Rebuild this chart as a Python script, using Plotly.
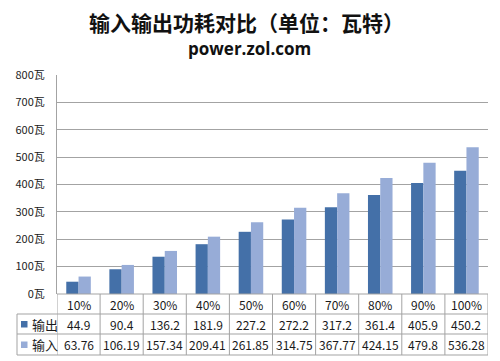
import plotly.graph_objects as go

categories = ["10%", "20%", "30%", "40%", "50%", "60%", "70%", "80%", "90%", "100%"]
output_w = [44.9, 90.4, 136.2, 181.9, 227.2, 272.2, 317.2, 361.4, 405.9, 450.2]
input_w = [63.76, 106.19, 157.34, 209.41, 261.85, 314.75, 367.77, 424.15, 479.8, 536.28]
series_names = ["输出", "输入"]
y_ticks = [0, 100, 200, 300, 400, 500, 600, 700, 800]

W, H = 500, 361
L, R, T, B = 57, 488, 75, 294
PW, PH = R - L, B - T
C_OUT = "#4470a8"
C_IN = "#97acd7"
GRID = "#a3a3a3"
FONT = "Noto Sans CJK SC"


def px(X):
    return (X - L) / PW


def py(Y):
    return (B - Y) / PH


fig = go.Figure()
fig.add_trace(go.Bar(x=categories, y=output_w, name=series_names[0], marker_color=C_OUT,
                     marker_line_width=0))
fig.add_trace(go.Bar(x=categories, y=input_w, name=series_names[1], marker_color=C_IN,
                     marker_line_width=0))

shapes = []
ann = []
line = dict(color=GRID, width=1)
row_y = [294, 314, 334, 355]
# horizontal table lines
shapes.append(dict(type="line", xref="paper", yref="paper", x0=0, x1=1, y0=py(row_y[0]), y1=py(row_y[0]), line=line))
for Y in row_y[1:]:
    shapes.append(dict(type="line", xref="paper", yref="paper", x0=px(17), x1=1, y0=py(Y), y1=py(Y), line=line))
# vertical lines
shapes.append(dict(type="line", xref="paper", yref="paper", x0=px(17), x1=px(17), y0=py(row_y[1]), y1=py(row_y[3]), line=line))
for i in range(len(categories) + 1):
    shapes.append(dict(type="line", xref="x", yref="paper", x0=i - 0.5, x1=i - 0.5,
                       y0=py(row_y[0]), y1=py(row_y[3]), line=line))

tfont = dict(family=FONT, size=12, color="#1a1a1a")
for i, c in enumerate(categories):
    ann.append(dict(x=c, y=py((row_y[0] + row_y[1]) / 2), xref="x", yref="paper", text=c,
                    showarrow=False, font=tfont, yanchor="middle"))
    ann.append(dict(x=c, y=py((row_y[1] + row_y[2]) / 2), xref="x", yref="paper", text=str(output_w[i]),
                    showarrow=False, font=tfont, yanchor="middle"))
    ann.append(dict(x=c, y=py((row_y[2] + row_y[3]) / 2), xref="x", yref="paper", text=str(input_w[i]),
                    showarrow=False, font=tfont, yanchor="middle"))

for k, (name, col) in enumerate(zip(series_names, [C_OUT, C_IN])):
    yc = (row_y[1 + k] + row_y[2 + k]) / 2
    shapes.append(dict(type="rect", xref="paper", yref="paper", x0=px(21), x1=px(27.5),
                       y0=py(yc + 3.5), y1=py(yc - 3), fillcolor=col, line=dict(width=0)))
    ann.append(dict(x=px(30), y=py(yc), xref="paper", yref="paper", text=name, showarrow=False,
                    xanchor="left", yanchor="middle", font=dict(family=FONT, size=13, color="#1a1a1a")))

# titles
ann.append(dict(x=(246 - L) / PW, y=py(22), xref="paper", yref="paper", text="<b>输入输出功耗对比（单位：瓦特）</b>",
                showarrow=False, xanchor="center", yanchor="middle", font=dict(family=FONT, size=21, color="#111")))
ann.append(dict(x=(249 - L) / PW, y=py(49), xref="paper", yref="paper", text="<b>power.zol.com</b>",
                showarrow=False, xanchor="center", yanchor="middle", font=dict(family="Open Sans", size=17, color="#111")))

fig.update_layout(
    width=W, height=H,
    margin=dict(l=L, r=W - R, t=T, b=H - B, pad=0),
    paper_bgcolor="white", plot_bgcolor="white",
    barmode="group", bargap=0.43, bargroupgap=0,
    showlegend=False,
    shapes=shapes, annotations=ann,
    xaxis=dict(showticklabels=False, showgrid=False, zeroline=False, showline=False,
               range=[-0.5, len(categories) - 0.5], fixedrange=True),
    yaxis=dict(range=[0, 800], tickvals=y_ticks, ticktext=[f"{v}瓦" for v in y_ticks],
               showgrid=True, gridcolor=GRID, gridwidth=1, zeroline=False,
               showline=True, linecolor=GRID, linewidth=1, ticks="", ticklabelstandoff=9,
               tickfont=dict(family=FONT, size=11, color="#222"), fixedrange=True),
)

fig.write_html("out.html")
